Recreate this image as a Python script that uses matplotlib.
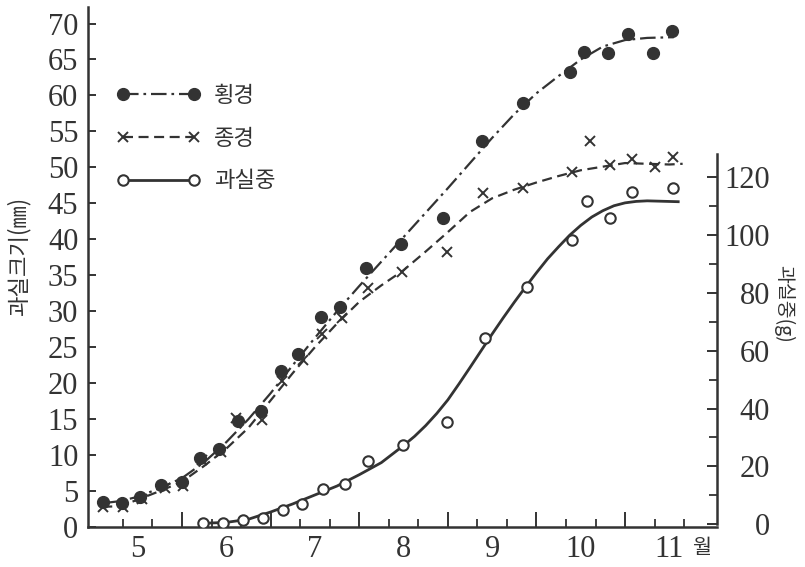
import numpy as np
import matplotlib
matplotlib.use("Agg")
import matplotlib.pyplot as plt
from matplotlib.lines import Line2D

plt.rcParams['font.family'] = ['Liberation Serif', 'Noto Sans CJK KR', 'DejaVu Sans']
kfont = ['Noto Sans CJK KR', 'DejaVu Sans']
ink = '#333333'

#measurement dates, written as month + fraction of the month
dates_w = [5.11, 5.32, 5.53, 5.76, 6.00, 6.20, 6.42, 6.63, 6.89, 7.12, 7.31, 7.57,
           7.78, 8.08, 8.47, 8.95, 9.39, 9.85, 10.38, 10.54, 10.81, 11.03, 11.32, 11.53]
width = [3.5, 3.3, 4.2, 5.8, 6.3, 9.6, 10.9, 14.7, 16.1, 21.7, 24.0, 29.2,
         30.6, 36.0, 39.3, 42.9, 53.6, 58.9, 63.2, 66.1, 65.9, 68.5, 65.9, 68.9]

dates_l = [5.11, 5.33, 5.55, 5.81, 6.01, 6.23, 6.44, 6.61, 6.90, 7.13, 7.36, 7.58,
           7.81, 8.10, 8.48, 8.99, 9.40, 9.85, 10.40, 10.60, 10.83, 11.08, 11.34, 11.54]
length = [2.8, 2.8, 3.9, 5.4, 5.7, 9.3, 10.4, 15.1, 14.9, 20.3, 23.2, 26.9,
          29.0, 33.3, 35.4, 38.2, 46.4, 47.1, 49.3, 53.6, 50.3, 51.1, 50.0, 51.5]

dates_f = [6.24, 6.46, 6.69, 6.91, 7.14, 7.35, 7.59, 7.84, 8.10, 8.49, 8.99, 9.42,
           9.89, 10.40, 10.57, 10.83, 11.08, 11.54]
weight = [0.5, 0.5, 1.4, 2.1, 4.9, 7.0, 12.2, 14.0, 22.0, 27.5, 35.5, 64.5,
          82.2, 98.3, 111.8, 105.9, 115.0, 116.4]

#fitted growth curves
width_curve_x = [5.1, 5.3, 5.5, 5.75, 6.0, 6.25, 6.5, 6.75, 7.0, 7.25, 7.5, 7.75, 8.0, 8.25,
                 8.5, 8.75, 9.0, 9.25, 9.5, 9.75, 10.0, 10.25, 10.5, 10.75, 11.0, 11.25, 11.55]
width_curve = [3.3, 3.6, 4.2, 5.4, 6.8, 9.0, 11.8, 15.0, 18.6, 22.5, 26.3, 30.0, 33.5, 36.9,
               40.3, 43.7, 47.1, 50.6, 54.1, 57.4, 60.3, 62.7, 65.0, 66.8, 67.7, 68.0, 68.1]

length_curve_x = [5.1, 5.3, 5.5, 5.75, 6.0, 6.25, 6.5, 6.75, 7.0, 7.25, 7.5, 7.75, 8.0, 8.25,
                  8.5, 8.75, 9.0, 9.25, 9.5, 9.75, 10.0, 10.25, 10.5, 10.75, 11.0, 11.25, 11.5, 11.65]
length_curve = [2.8, 2.9, 3.8, 5.0, 6.3, 8.5, 10.9, 13.8, 17.6, 21.4, 25.0, 28.3, 31.3, 33.6,
                35.7, 38.3, 41.0, 43.8, 45.7, 46.9, 47.9, 48.8, 49.6, 50.1, 50.6, 50.5, 50.4, 50.5]

weight_curve_x = [6.24, 6.5, 6.75, 7.0, 7.25, 7.5, 7.75, 8.0, 8.25, 8.5, 8.625, 8.75, 8.875,
                  9.0, 9.125, 9.25, 9.375, 9.5, 9.625, 9.75, 9.875, 10.0, 10.125, 10.25,
                  10.375, 10.5, 10.625, 10.75, 10.875, 11.0, 11.125, 11.25, 11.6]
weight_curve = [0.3, 0.6, 1.7, 4.2, 7.0, 10.1, 13.2, 17.1, 21.3, 27.2, 30.4, 34.1, 38.3,
                43.0, 48.5, 54.2, 60.0, 65.8, 71.4, 76.8, 82.0, 87.0, 91.8, 96.0,
                100.0, 103.4, 106.3, 108.5, 110.2, 111.2, 111.7, 111.9, 111.6]

months = ['5', '6', '7', '8', '9', '10', '11']
labels = ['횡경', '종경', '과실중']

dashdot = (0, (7, 2.2, 1.2, 2.2))
dashed = (0, (4.5, 2.5))

fig = plt.figure(figsize=(8.05, 5.67), dpi=100)
ax = fig.add_axes([0.1093, 0.0705, 0.7814, 0.9172])
ax2 = ax.twinx()

#size curves and points on the left axis
ax.plot(width_curve_x, width_curve, color=ink, lw=1.6, ls=dashdot)
ax.plot(dates_w, width, 'o', color=ink, ms=8.5, mec=ink)
ax.plot(length_curve_x, length_curve, color=ink, lw=1.6, ls=dashed)
ax.plot(dates_l, length, 'x', color=ink, ms=7, mew=1.4)

#fruit weight on the right axis
ax2.plot(weight_curve_x, weight_curve, color=ink, lw=2.0)
ax2.plot(dates_f, weight, 'o', color=ink, mfc='white', ms=7.5, mew=1.5)

ax.set_xlim(4.939, 12.038)
ax.set_ylim(0, 72.3)
ax2.set_ylim(-1, 179)

for s in ['top', 'right']:
    ax.spines[s].set_visible(False)
for s in ['top', 'left', 'bottom']:
    ax2.spines[s].set_visible(False)
for s in ['left', 'bottom']:
    ax.spines[s].set_linewidth(1.8)
    ax.spines[s].set_color(ink)
ax2.spines['right'].set_linewidth(1.8)
ax2.spines['right'].set_color(ink)
ax2.spines['right'].set_bounds(0, 128)

#bottom axis: long ticks at month boundaries, short ones every ten days
ax.set_xticks(np.arange(6, 12))
ax.set_xticks([m + f for m in range(5, 12) for f in (1 / 3, 2 / 3)], minor=True)
ax.tick_params(axis='x', which='major', direction='in', length=11, width=1.4,
               color=ink, labelbottom=False)
ax.tick_params(axis='x', which='minor', direction='in', length=6, width=1.3, color=ink)
for i, m in enumerate(months):
    ax.text(5.5 + i, -0.043, m, transform=ax.get_xaxis_transform(), ha='center',
            va='center', fontsize=22, color=ink)
ax.text(11.86, -0.04, '월', transform=ax.get_xaxis_transform(), ha='center',
        va='center', fontsize=15, color=ink, family=kfont)

ax.set_yticks(np.arange(0, 71, 5))
ax.tick_params(axis='y', direction='in', length=6, width=1.4, color=ink, pad=7,
               labelsize=22, labelcolor=ink)
ax.set_ylabel('과실크기(㎜)', family=kfont, fontsize=16, color=ink, labelpad=0)
ax.yaxis.set_label_coords(-0.091, 0.52)

ax2.set_yticks(np.arange(0, 121, 20))
ax2.set_yticks(np.arange(10, 120, 20), minor=True)
ax2.tick_params(axis='y', which='major', direction='in', length=7, width=1.4, color=ink,
                pad=38, labelsize=22, labelcolor=ink)
ax2.tick_params(axis='y', which='minor', direction='in', length=6, width=1.3, color=ink)
for t in ax2.get_yticklabels():
    t.set_horizontalalignment('right')
ax2.set_ylabel('과실중(g)', family=kfont, fontsize=14, color=ink, rotation=270)
ax2.yaxis.set_label_coords(1.123, 0.43)

#legend with markers at both ends of the line
handles = [Line2D([], [], color=ink, lw=1.6, ls=dashdot, marker='o', ms=8.5),
           Line2D([], [], color=ink, lw=1.6, ls=dashed, marker='x', ms=7, mew=1.4),
           Line2D([], [], color=ink, lw=2.0, marker='o', mfc='white', ms=7.5, mew=1.5)]
ax.legend(handles, labels, loc='upper left', bbox_to_anchor=(0.045, 0.852), frameon=False,
          numpoints=2, handlelength=3.8, handletextpad=0.6, labelspacing=0.89,
          borderpad=0, borderaxespad=0, prop={'family': kfont, 'size': 16},
          labelcolor=ink)

fig.savefig('out.png', dpi=100, facecolor='white')
